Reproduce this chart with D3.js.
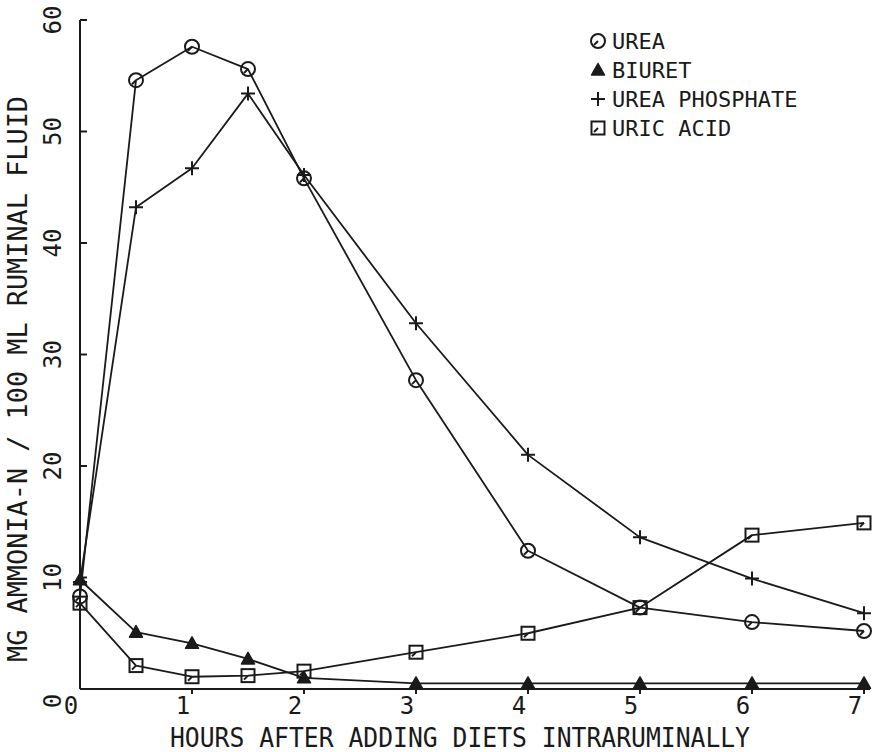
<!DOCTYPE html>
<html>
<head>
<meta charset="utf-8">
<script src="https://cdn.jsdelivr.net/npm/d3@7"></script>
<style>
  html, body { margin: 0; padding: 0; background: #fff; }
  svg { display: block; }
  text { font-family: "DejaVu Sans Mono", monospace; fill: #1a1a1a; }
</style>
</head>
<body>
<svg id="chart" width="874" height="752"></svg>
<script>
// Sampling times (hours after dosing)
const hours = [0, 0.5, 1, 1.5, 2, 3, 4, 5, 6, 7];

// Ammonia-N, mg / 100 ml ruminal fluid
const urea          = [8.3, 54.6, 57.6, 55.6, 45.8, 27.7, 12.4, 7.3, 6.0, 5.2];
const biuret        = [9.8, 5.1, 4.1, 2.7, 1.0, 0.5, 0.5, 0.5, 0.5, 0.5];
const ureaPhosphate = [9.6, 43.2, 46.7, 53.4, 46.1, 32.8, 21.0, 13.6, 9.9, 6.8];
const uricAcid      = [7.7, 2.1, 1.1, 1.2, 1.6, 3.3, 5.0, 7.3, 13.8, 14.9];

const seriesNames = ["UREA", "BIURET", "UREA PHOSPHATE", "URIC ACID"];
const seriesShapes = ["circle", "triangle", "plus", "square"];
const seriesValues = [urea, biuret, ureaPhosphate, uricAcid];

const xTicks = [0, 1, 2, 3, 4, 5, 6, 7];
const yTicks = [0, 10, 20, 30, 40, 50, 60];

const xTitle = "HOURS AFTER ADDING DIETS INTRARUMINALLY";
const yTitle = "MG AMMONIA-N / 100 ML RUMINAL FLUID";

const ink = "#1a1a1a";
const svg = d3.select("#chart");

const x = d3.scaleLinear().domain([0, 7]).range([80, 864]);
const y = d3.scaleLinear().domain([0, 60]).range([689, 20]);

// Axes
const g = svg.append("g");
g.append("line").attr("x1", x(0)).attr("x2", 870).attr("y1", y(0)).attr("y2", y(0))
  .attr("stroke", ink).attr("stroke-width", 2);
g.append("line").attr("x1", x(0)).attr("x2", x(0)).attr("y1", y(0)).attr("y2", y(60))
  .attr("stroke", ink).attr("stroke-width", 2);

// y ticks point inward
g.selectAll(".ytick").data(yTicks.filter(d => d > 0)).join("line")
  .attr("x1", x(0)).attr("x2", x(0) + 7)
  .attr("y1", d => y(d)).attr("y2", d => y(d))
  .attr("stroke", ink).attr("stroke-width", 2);

// x ticks point outward
g.selectAll(".xtick").data(xTicks.filter(d => d > 0)).join("line")
  .attr("x1", d => x(d)).attr("x2", d => x(d))
  .attr("y1", y(0)).attr("y2", y(0) + 5)
  .attr("stroke", ink).attr("stroke-width", 2);

// x tick labels
g.selectAll(".xlab").data(xTicks).join("text")
  .attr("x", d => x(d) - 9).attr("y", 714)
  .attr("text-anchor", "middle")
  .attr("font-size", 24)
  .text(d => d);

// y tick labels, rotated
g.selectAll(".ylab").data(yTicks).join("text")
  .attr("transform", d => `translate(61, ${d === 0 ? y(d) + 12 : y(d)}) rotate(-90)`)
  .attr("text-anchor", "middle")
  .attr("font-size", 24)
  .text(d => d);

// axis titles
g.append("text")
  .attr("x", 460).attr("y", 747)
  .attr("text-anchor", "middle")
  .attr("font-size", 26)
  .attr("textLength", 580).attr("lengthAdjust", "spacingAndGlyphs")
  .text(xTitle);

g.append("text")
  .attr("transform", "translate(27, 379) rotate(-90)")
  .attr("text-anchor", "middle")
  .attr("font-size", 27)
  .attr("textLength", 566).attr("lengthAdjust", "spacingAndGlyphs")
  .text(yTitle);

// Marker drawing
function drawMarker(sel, shape) {
  if (shape === "circle") {
    sel.append("circle").attr("r", 7).attr("fill", "none")
      .attr("stroke", ink).attr("stroke-width", 2);
    sel.append("path").attr("d", "M-4,4 L0,0").attr("stroke", ink).attr("stroke-width", 2);
  } else if (shape === "square") {
    sel.append("rect").attr("x", -6.5).attr("y", -6.5).attr("width", 13).attr("height", 13)
      .attr("fill", "none").attr("stroke", ink).attr("stroke-width", 2);
    sel.append("path").attr("d", "M-4,4 L0,0").attr("stroke", ink).attr("stroke-width", 2);
  } else if (shape === "triangle") {
    sel.append("path").attr("d", "M0,-6.5 L6.5,5 L-6.5,5 Z")
      .attr("fill", ink).attr("stroke", ink).attr("stroke-width", 1.5)
      .attr("stroke-linejoin", "round");
  } else if (shape === "plus") {
    sel.append("path").attr("d", "M-7,0 L7,0 M0,-7 L0,7")
      .attr("stroke", ink).attr("stroke-width", 2);
  }
}

const line = d3.line().x(d => x(d[0])).y(d => y(d[1]));

seriesValues.forEach((vals, i) => {
  const pts = hours.map((h, j) => [h, vals[j]]);
  const sg = svg.append("g");
  sg.append("path").datum(pts).attr("d", line)
    .attr("fill", "none").attr("stroke", ink).attr("stroke-width", 1.8)
    .attr("stroke-linejoin", "round");
  sg.selectAll("g.m").data(pts).join("g")
    .attr("transform", d => `translate(${x(d[0])},${y(d[1])})`)
    .each(function () { drawMarker(d3.select(this), seriesShapes[i]); });
});

// Legend
const legend = svg.append("g").attr("transform", "translate(598, 41)");
seriesNames.forEach((name, i) => {
  const row = legend.append("g").attr("transform", `translate(0, ${i * 29})`);
  drawMarker(row.append("g"), seriesShapes[i]);
  row.append("text").attr("x", 14).attr("y", 8)
    .attr("font-size", 22)
    .text(name);
});
</script>
</body>
</html>
